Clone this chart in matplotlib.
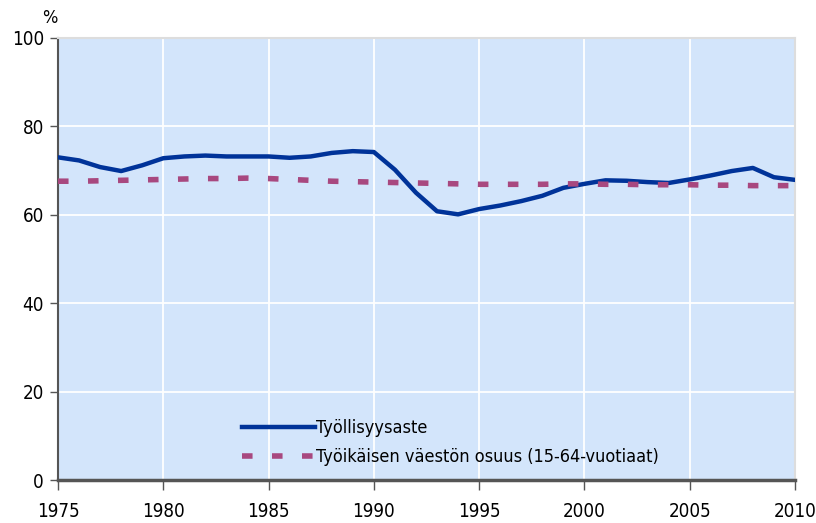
import matplotlib
matplotlib.use("Agg")
import matplotlib.pyplot as plt

years = list(range(1975, 2011))
tyollisyysaste = [73.0, 72.3, 70.8, 69.9, 71.2, 72.8, 73.2, 73.4, 73.2, 73.2,
                  73.2, 72.9, 73.2, 74.0, 74.4, 74.2, 70.2, 65.0, 60.8, 60.1,
                  61.3, 62.1, 63.1, 64.3, 66.1, 67.0, 67.8, 67.7, 67.4, 67.2,
                  68.0, 68.9, 69.9, 70.6, 68.5, 67.9]
tyoikaiset = [67.6, 67.6, 67.7, 67.8, 67.9, 68.0, 68.1, 68.2, 68.2, 68.3,
              68.2, 68.0, 67.8, 67.6, 67.5, 67.4, 67.3, 67.2, 67.1, 67.0,
              66.9, 66.9, 66.9, 66.9, 67.0, 67.0, 66.9, 66.9, 66.8, 66.8,
              66.8, 66.7, 66.7, 66.6, 66.6, 66.6]
labels = ["Työllisyysaste", "Työikäisen väestön osuus (15-64-vuotiaat)"]

plt.rcParams['font.family'] = ['DejaVu Sans']
plt.rcParams['font.stretch'] = 'condensed'

fig = plt.figure(figsize=(8.16, 5.23), dpi=100)
ax = fig.add_axes([58/816, 43/523, 737/816, 442/523])
ax.set_facecolor("#d3e5fb")

ax.plot(years, tyollisyysaste, color="#003399", lw=3.2, label=labels[0], zorder=3)
ax.plot(years, tyoikaiset, color="#a8487f", lw=4.0, dashes=(1.9, 3.5),
        label=labels[1], zorder=3)

ax.set_xlim(1975, 2010)
ax.set_ylim(0, 100)
ax.set_xticks(range(1975, 2011, 5))
ax.set_yticks(range(0, 101, 20))
ax.grid(True, color="white", lw=1.3, zorder=0)
ax.set_axisbelow(True)

for s in ["top", "right"]:
    ax.spines[s].set_color("#dddddd")
    ax.spines[s].set_linewidth(1.5)
ax.spines["left"].set_color("#555555")
ax.spines["left"].set_linewidth(1.5)
ax.spines["bottom"].set_color("#555555")
ax.spines["bottom"].set_linewidth(2.5)

ax.tick_params(axis="y", length=6, width=1, color="#555555", labelsize=13.5, pad=4)
ax.tick_params(axis="x", length=7, width=1, color="#555555", labelsize=13.5, pad=9)

fig.text(42/816, 1 - 18/523, "%", fontsize=13, ha="left", va="center")

leg = ax.legend(loc="lower center", bbox_to_anchor=(0.533, -0.005), frameon=False,
                fontsize=13, handlelength=4.0, handletextpad=0.1, labelspacing=0.6)

fig.savefig("out.png", dpi=100)
